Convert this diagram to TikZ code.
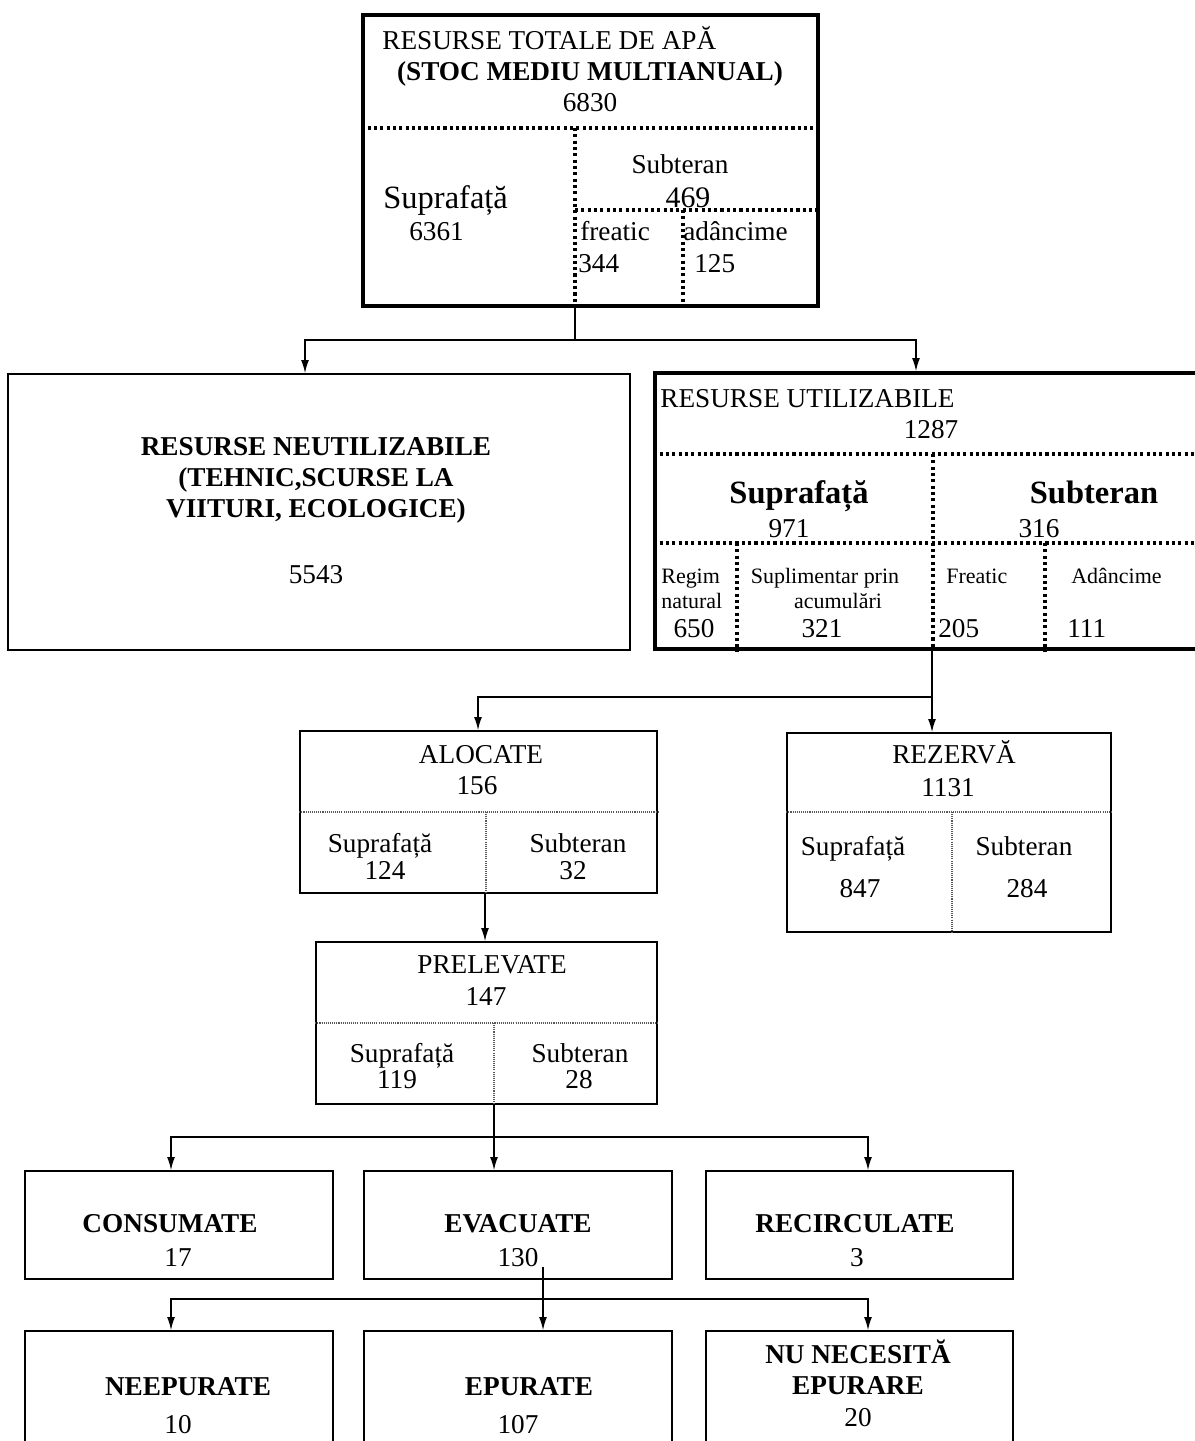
\documentclass[tikz,border=0pt]{standalone}
\usepackage{fontspec}
\setmainfont{Liberation Serif}
\usetikzlibrary{arrows.meta,calc,fit,positioning}
\newcommand{\fsnorm}{\fontsize{15.5}{17.6}\selectfont}
\newcommand{\fsbig}{\fontsize{18.5}{21}\selectfont}
\newcommand{\fssmall}{\fontsize{12.5}{14.2}\selectfont}
\tikzset{
  heavybox/.style={draw, line width=2pt, inner sep=0pt},
  lightbox/.style={draw, line width=0.85pt, inner sep=0pt},
  heavydots/.style={line width=1.8pt, dash pattern=on 1.8pt off 1.8pt},
  lightdots/.style={line width=0.6pt, dash pattern=on 0.6pt off 0.6pt, black!65},
  wire/.style={line width=0.9pt},
  feed/.style={wire, -{Latex[length=7.5pt,width=4.5pt]}},
  lbl/.style={inner sep=0pt, font=\fsnorm},
  lblbf/.style={inner sep=0pt, font=\fsnorm\bfseries},
}

\begin{document}
\begin{tikzpicture}[x=0.02cm, y=-0.02cm]
    \useasboundingbox (0,0) rectangle (1195,1441);
    \fill[white] (0,0) rectangle (1195,1441);

    % resurse totale
    \node[heavybox, fit={(363,15) (818,306)}] (tot) {};
    \draw[heavydots] (tot.west |- 0,128) -- (tot.east |- 0,128);
    \draw[heavydots] (575,128) -- (tot.south -| 575,0);
    \draw[heavydots] (575,210) -- (tot.east |- 0,210);
    \draw[heavydots] (683,210) -- (tot.south -| 683,0);
    \node[lbl, anchor=base west] (totname) at (382,49) {RESURSE TOTALE DE APĂ};
    \node[lblbf, anchor=base] (totstoc) at (590,80) {(STOC MEDIU MULTIANUAL)};
    \node[lbl, anchor=base] (totval) at (590,111) {6830};
    \node[lbl, font=\fsbig, anchor=base west] (totsup) at (383,208) {Suprafață};
    \node[lbl, anchor=base west] (totsupval) at (409,240) {6361};
    \node[lbl, anchor=base] (totsub) at (680,173) {Subteran};
    \node[lbl, font=\fontsize{17}{19}\selectfont, anchor=base] (totsubval) at (688,207) {469};
    \node[lbl, anchor=base west] (totfre) at (580,240) {freatic};
    \node[lbl, anchor=base west] (totfreval) at (578,272) {344};
    \node[lbl, anchor=base west] (totadi) at (683,240) {adâncime};
    \node[lbl, anchor=base west] (totadival) at (694,272) {125};

    % resurse neutilizabile
    \node[lightbox, fit={(8,374) (630,650)}] (neut) {};
    \node[lblbf, align=center] (neuttxt) at (316,480) {RESURSE NEUTILIZABILE\\(TEHNIC,SCURSE LA\\VIITURI, ECOLOGICE)};
    \node[lbl, anchor=base] (neutval) at (316,583) {5543};

    % resurse utilizabile
    \node[heavybox, fit={(655,373) (1205,649)}] (util) {};
    \draw[heavydots] (util.west |- 0,454) -- (util.east |- 0,454);
    \draw[heavydots] (util.west |- 0,543) -- (util.east |- 0,543);
    \draw[heavydots] (933,454) -- (util.south -| 933,0);
    \draw[heavydots] (737,543) -- (util.south -| 737,0);
    \draw[heavydots] (1045,543) -- (util.south -| 1045,0);
    \node[lbl, anchor=base west] (utilname) at (660,407) {RESURSE UTILIZABILE};
    \node[lbl, anchor=base] (utilval) at (931,438) {1287};
    \node[lbl, font=\fsbig\bfseries, anchor=base] (utilsup) at (799,503) {Suprafață};
    \node[lbl, anchor=base] (utilsupval) at (789,537) {971};
    \node[lbl, font=\fsbig\bfseries, anchor=base] (utilsub) at (1094,503) {Subteran};
    \node[lbl, anchor=base] (utilsubval) at (1039,537) {316};
    \node[lbl, font=\fssmall, anchor=base west] (regim) at (661,583) {Regim};
    \node[lbl, font=\fssmall, anchor=base west] (natural) at (661,608) {natural};
    \node[lbl, anchor=base] (regimval) at (694,637) {650};
    \node[lbl, font=\fssmall, anchor=base] (supl) at (825,583) {Suplimentar prin};
    \node[lbl, font=\fssmall, anchor=base] (acum) at (838,608) {acumulări};
    \node[lbl, anchor=base] (suplval) at (822,637) {321};
    \node[lbl, font=\fssmall, anchor=base west] (ufre) at (946,583) {Freatic};
    \node[lbl, anchor=base west] (ufreval) at (938,637) {205};
    \node[lbl, font=\fssmall, anchor=base west] (uadi) at (1071,583) {Adâncime};
    \node[lbl, anchor=base west] (uadival) at (1067,637) {111};

    % alocate
    \node[lightbox, fit={(300,731) (657,893)}] (aloc) {};
    \draw[lightdots] (aloc.west |- 0,812) -- (aloc.east |- 0,812);
    \draw[lightdots] (486,812) -- (aloc.south -| 486,0);
    \node[lbl, anchor=base] (alocname) at (481,763) {ALOCATE};
    \node[lbl, anchor=base] (alocval) at (477,794) {156};
    \node[lbl, anchor=base] (alocsup) at (380,852) {Suprafață};
    \node[lbl, anchor=base] (alocsupval) at (385,879) {124};
    \node[lbl, anchor=base] (alocsub) at (578,852) {Subteran};
    \node[lbl, anchor=base] (alocsubval) at (573,879) {32};

    % rezerva
    \node[lightbox, fit={(787,733) (1111,932)}] (rez) {};
    \draw[lightdots] (rez.west |- 0,812) -- (rez.east |- 0,812);
    \draw[lightdots] (952,812) -- (rez.south -| 952,0);
    \node[lbl, anchor=base] (rezname) at (954,763) {REZERVĂ};
    \node[lbl, anchor=base] (rezval) at (948,796) {1131};
    \node[lbl, anchor=base] (rezsup) at (853,855) {Suprafață};
    \node[lbl, anchor=base] (rezsupval) at (860,897) {847};
    \node[lbl, anchor=base] (rezsub) at (1024,855) {Subteran};
    \node[lbl, anchor=base] (rezsubval) at (1027,897) {284};

    % prelevate
    \node[lightbox, fit={(316,942) (657,1104)}] (prel) {};
    \draw[lightdots] (prel.west |- 0,1023) -- (prel.east |- 0,1023);
    \draw[lightdots] (494,1023) -- (prel.south -| 494,0);
    \node[lbl, anchor=base] (prelname) at (492,973) {PRELEVATE};
    \node[lbl, anchor=base] (prelval) at (486,1005) {147};
    \node[lbl, anchor=base] (prelsup) at (402,1062) {Suprafață};
    \node[lbl, anchor=base] (prelsupval) at (397,1088) {119};
    \node[lbl, anchor=base] (prelsub) at (580,1062) {Subteran};
    \node[lbl, anchor=base] (prelsubval) at (579,1088) {28};

    % consumate / evacuate / recirculate
    \node[lightbox, fit={(25,1171) (333,1279)}] (cons) {};
    \node[lblbf, anchor=base] (consname) at (170,1232) {CONSUMATE};
    \node[lbl, anchor=base] (consval) at (178,1266) {17};
    \node[lightbox, fit={(364,1171) (672,1279)}] (evac) {};
    \node[lblbf, anchor=base] (evacname) at (518,1232) {EVACUATE};
    \node[lbl, anchor=base] (evacval) at (518,1266) {130};
    \node[lightbox, fit={(706,1171) (1013,1279)}] (recirc) {};
    \node[lblbf, anchor=base] (recircname) at (855,1232) {RECIRCULATE};
    \node[lbl, anchor=base] (recircval) at (857,1266) {3};

    % neepurate / epurate / nu necesita
    \node[lightbox, fit={(25,1331) (333,1470)}] (neep) {};
    \node[lblbf, anchor=base] (neepname) at (188,1395) {NEEPURATE};
    \node[lbl, anchor=base] (neepval) at (178,1433) {10};
    \node[lightbox, fit={(364,1331) (672,1470)}] (epur) {};
    \node[lblbf, anchor=base] (epurname) at (529,1395) {EPURATE};
    \node[lbl, anchor=base] (epurval) at (518,1433) {107};
    \node[lightbox, fit={(706,1331) (1013,1470)}] (nunec) {};
    \node[lblbf, anchor=base] (nunecname) at (858,1363) {NU NECESITĂ};
    \node[lblbf, anchor=base] (nunecname2) at (858,1394) {EPURARE};
    \node[lbl, anchor=base] (nunecval) at (858,1426) {20};

    % legaturi
    \coordinate (fork1) at (575,340);
    \draw[wire] (tot.south -| fork1) -- (fork1);
    \draw[feed] (fork1) -| (neut.north -| 305,0);
    \draw[feed] (fork1) -| (util.north -| 916,0);

    \coordinate (fork2) at (932,697);
    \draw[feed] (util.south -| fork2) -- (rez.north -| fork2);
    \draw[feed] (fork2) -| (aloc.north -| 478,0);

    \draw[feed] (aloc.south -| 485,0) -- (prel.north -| 485,0);

    \coordinate (fork3) at (494,1137);
    \draw[feed] (prel.south -| fork3) -- (evac.north -| fork3);
    \draw[feed] (fork3) -| (cons.north -| 171,0);
    \draw[feed] (fork3) -| (recirc.north -| 868,0);

    \coordinate (evout) at (543,1267);
    \coordinate (fork4) at (543,1299);
    \draw[feed] (evout) -- (epur.north -| evout);
    \draw[feed] (fork4) -| (neep.north -| 171,0);
    \draw[feed] (fork4) -| (nunec.north -| 868,0);
\end{tikzpicture}
\end{document}
